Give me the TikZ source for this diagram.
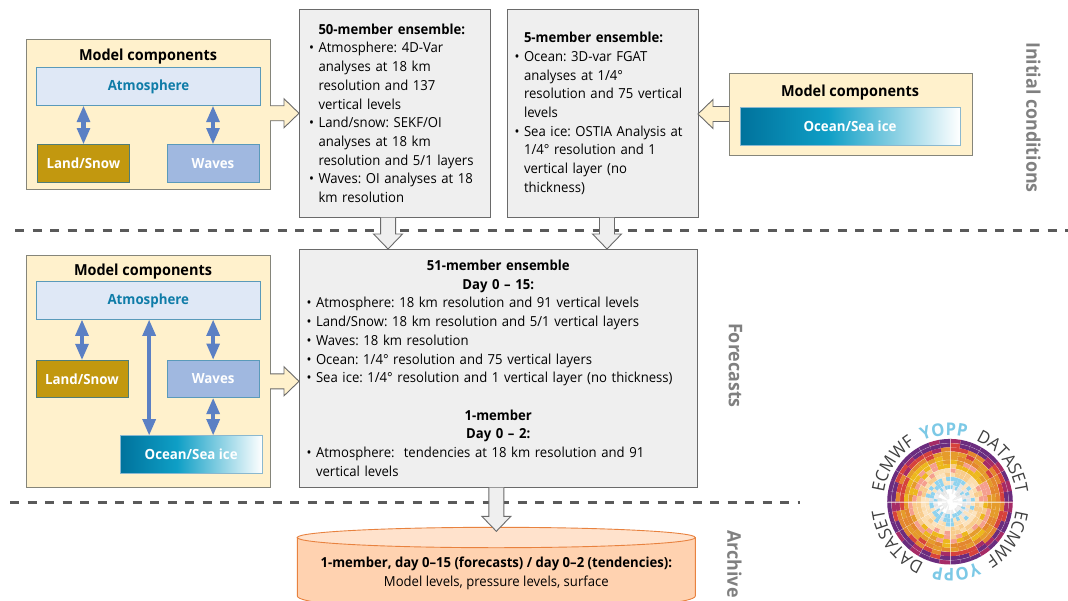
\documentclass[tikz,border=0pt]{standalone}
\usepackage{fontspec}
\setmainfont{Open Sans}[FakeStretch=0.95]
\frenchspacing
\usetikzlibrary{calc,arrows.meta,shapes.geometric,decorations.text}
\definecolor{mcfill}{HTML}{FFF1CC}
\definecolor{mcline}{HTML}{85857A}
\definecolor{ensfill}{HTML}{EFEFEF}
\definecolor{ensline}{HTML}{6A6A6A}
\definecolor{atmfill}{HTML}{DFE8F6}
\definecolor{atmline}{HTML}{5A9ABA}
\definecolor{atmtext}{HTML}{0F7CA8}
\definecolor{landfill}{HTML}{C2980F}
\definecolor{landline}{HTML}{4F7D78}
\definecolor{wavefill}{HTML}{A0B8E0}
\definecolor{arrowblue}{HTML}{5B80C4}
\definecolor{dashgrey}{HTML}{5A5A5A}
\definecolor{sidegrey}{HTML}{808080}
\definecolor{cylbody}{HTML}{FFD2B0}
\definecolor{cyltop}{HTML}{FFE2CC}
\definecolor{cylline}{HTML}{E8823F}
\definecolor{oceanA}{HTML}{00729C}
\definecolor{oceanB}{HTML}{0F9FC6}
\definecolor{yopp}{HTML}{7CC9E6}
\definecolor{cA}{HTML}{6B2C7E}
\definecolor{cB}{HTML}{A62B66}
\definecolor{cC}{HTML}{D6423C}
\definecolor{cD}{HTML}{E4872E}
\definecolor{cE}{HTML}{E59B2B}
\definecolor{cF}{HTML}{EDB81D}
\definecolor{cG}{HTML}{F59F8E}
\definecolor{cH}{HTML}{F8CC8C}
\definecolor{cI}{HTML}{FBDDAE}
\definecolor{cJ}{HTML}{FCE3BE}
\definecolor{cK}{HTML}{8FD2EE}
\definecolor{cL}{HTML}{E4E4E4}
\definecolor{cM}{HTML}{EDEDED}
\definecolor{cN}{HTML}{FFFFFF}
\pgfdeclarehorizontalshading{oceangrad}{100bp}{color(0bp)=(oceanA); color(25bp)=(oceanA); color(45bp)=(oceanB); color(75bp)=(white); color(100bp)=(white)}
\tikzset{
  x=1pt,y=-1pt,
  base/.style={inner sep=0pt,outer sep=0pt,font=\fontsize{13.8}{18.7}\selectfont},
  mcbox/.style={base,draw=mcline,fill=mcfill,line width=0.9pt,anchor=north west},
  ensbox/.style={base,draw=ensline,fill=ensfill,line width=0.9pt,anchor=north west,inner xsep=8pt,align=left},
  comp/.style={base,anchor=north west,line width=0.9pt,text=white,font=\fontsize{14}{17}\selectfont\bfseries},
  atmbox/.style={comp,draw=atmline,fill=atmfill,text=atmtext},
  landbox/.style={comp,draw=landline,fill=landfill},
  wavebox/.style={comp,draw=atmline,fill=wavefill},
  oceanbox/.style={comp,draw=atmline!70,shading=oceangrad},
  mctitle/.style={base,font=\fontsize{15.2}{18}\selectfont\bfseries},
  side/.style={base,rotate=-90,text=sidegrey,font=\fontsize{18.8}{22}\selectfont\bfseries},
  dashline/.style={draw=dashgrey,line width=2.4pt,dash pattern=on 9pt off 8.5pt},
  twoway/.style={draw=arrowblue,line width=4.6pt,{Triangle[length=16.5pt,width=12.5pt,fill=arrowblue]}-{Triangle[length=16.5pt,width=12.5pt,fill=arrowblue]},shorten >=0pt,shorten <=0pt},
  blockline/.style={draw=ensline,line width=0.9pt,line join=miter},
}
\newlength\ind
\newcommand\tline[1]{\hspace*{\ind}#1\\}
\newcommand\bline[1]{\hspace*{\ind}\llap{•\hspace{4.5pt}}#1\\}
\newcommand\cenline[1]{\makebox[\hsize][c]{#1}\\}
% fill colour, from, to, head length
\newcommand\blockarrow[4]{%
  \coordinate (hd) at ($(#3)!#4pt!(#2)$);
  \fill[#1] ($(#2)!7.5pt!90:(#3)$) -- ($(hd)!7.5pt!-90:(#2)$) -- ($(hd)!14.5pt!-90:(#2)$) -- (#3) -- ($(hd)!14.5pt!90:(#2)$) -- ($(hd)!7.5pt!90:(#2)$) -- ($(#2)!7.5pt!-90:(#3)$) -- cycle;
  \draw[blockline] ($(#2)!7.5pt!90:(#3)$) -- ($(hd)!7.5pt!-90:(#2)$) -- ($(hd)!14.5pt!-90:(#2)$) -- (#3) -- ($(hd)!14.5pt!90:(#2)$) -- ($(hd)!7.5pt!90:(#2)$) -- ($(#2)!7.5pt!-90:(#3)$);
}
\begin{document}
\begin{tikzpicture}
\useasboundingbox (0,0) rectangle (1068,600);
\fill[white] (0,0) rectangle (1068,600);

% dashed separators
\coordinate (d1a) at (15,230.3); \coordinate (d1b) at (1068,230.3);
\coordinate (d2a) at (10,502.3); \coordinate (d2b) at (800,502.3);
\draw[dashline] (d1a) -- (d1b);
\draw[dashline] (d2a) -- (d2b);

% ---------- initial conditions, left
\node[mcbox,minimum width=243.5pt,minimum height=150pt] (mc1) at (26.5,39.5) {};
\node[mctitle] (mc1t) at (148,57) {Model components};
\node[atmbox,minimum width=224pt,minimum height=38pt] (atm1) at (36.5,67.5) {Atmosphere};
\node[landbox,minimum width=92pt,minimum height=37.5pt] (land1) at (37.5,144.5) {Land/Snow};
\node[wavebox,minimum width=92pt,minimum height=37.5pt] (wave1) at (167,144.5) {Waves};
\draw[twoway] (atm1.south -| land1.north) -- (land1.north);
\draw[twoway] (atm1.south -| wave1.north) -- (wave1.north);

% ---------- ensembles
\setlength\ind{11.5pt}
\node[ensbox,minimum width=191.5pt,minimum height=208.5pt,text width=175.5pt] (ens50) at (299,9) {%
\tline{\textbf{50-member ensemble:}}
\bline{Atmosphere: 4D-Var}
\tline{analyses at 18 km}
\tline{resolution and 137}
\tline{vertical levels}
\bline{Land/snow: SEKF/OI}
\tline{analyses at 18 km}
\tline{resolution and 5/1 layers}
\bline{Waves: OI analyses at 18}
\tline{km resolution}};
\setlength\ind{9pt}
\node[ensbox,minimum width=191pt,minimum height=208.5pt,text width=175pt] (ens5) at (507,9) {%
\tline{\textbf{5-member ensemble:}}
\bline{Ocean: 3D-var FGAT}
\tline{analyses at 1/4°}
\tline{resolution and 75 vertical}
\tline{levels}
\bline{Sea ice: OSTIA Analysis at}
\tline{1/4° resolution and 1}
\tline{vertical layer (no}
\tline{thickness)}};
\node[ensbox,minimum width=398.5pt,minimum height=238.5pt,text width=382.5pt] (ens51) at (299,249) {%
\cenline{\textbf{51-member ensemble}}
\cenline{\textbf{Day 0 – 15:}}
\bline{Atmosphere: 18 km resolution and 91 vertical levels}
\bline{Land/Snow: 18 km resolution and 5/1 vertical layers}
\bline{Waves: 18 km resolution}
\bline{Ocean: 1/4° resolution and 75 vertical layers}
\bline{Sea ice: 1/4° resolution and 1 vertical layer (no thickness)}
\mbox{}\\
\cenline{\textbf{1-member}}
\cenline{\textbf{Day 0 – 2:}}
\bline{Atmosphere:\ \ tendencies at 18 km resolution and 91}
\tline{vertical levels}};

% ---------- initial conditions, right
\node[mcbox,minimum width=243pt,minimum height=82pt] (mc2) at (729,73) {};
\node[mctitle] (mc2t) at (850,92.5) {Model components};
\node[oceanbox,minimum width=220pt,minimum height=38pt] (ocean2) at (740,107) {Ocean/Sea ice};

% ---------- forecasts
\node[mcbox,minimum width=243.5pt,minimum height=232pt] (mc3) at (26.5,255.7) {};
\node[mctitle] (mc3t) at (143,271.5) {Model components};
\node[atmbox,minimum width=224.5pt,minimum height=37.6pt] (atm3) at (36,281.7) {Atmosphere};
\node[landbox,minimum width=92pt,minimum height=37.6pt] (land3) at (36,360.3) {Land/Snow};
\node[wavebox,minimum width=92.3pt,minimum height=37.6pt] (wave3) at (167,360) {Waves};
\node[oceanbox,minimum width=142.3pt,minimum height=38pt] (ocean3) at (120,435.7) {Ocean/Sea ice};
\coordinate (long3) at ($(ocean3.north)+(-42,0)$);
\draw[twoway] (atm3.south -| land3.north) -- (land3.north);
\draw[twoway] (atm3.south -| wave3.north) -- (wave3.north);
\draw[twoway] (atm3.south -| long3) -- (long3);
\draw[twoway] (wave3.south) -- (wave3.south |- ocean3.north);

% ---------- archive cylinder
\begin{scope}
\clip (0,0) rectangle (1068,600);
\coordinate (cylL) at (297.3,537.5);
\coordinate (cylR) at (695.3,537.5);
\filldraw[fill=cylbody,draw=cylline,line width=0.9pt] (cylL) -- (297.3,596) .. controls (297.3,599) and (310,602) .. (330,604) -- (660,604) .. controls (682,602) and (695.3,599) .. (695.3,596) -- (cylR) -- cycle;
\node[ellipse,draw=cylline,fill=cyltop,line width=0.9pt,minimum width=398pt,minimum height=20.4pt,inner sep=0pt,outer sep=0pt] (archtop) at (496.3,537.5) {};
\end{scope}
\node[base,align=center] (arch) at (496.3,573.5) {\textbf{1-member, day 0–15 (forecasts) / day 0–2 (tendencies):}\\Model levels, pressure levels, surface};

% ---------- block arrows
\coordinate (a1a) at (mc1.east |- ens50.west);
\coordinate (a1b) at (ens50.west);
\blockarrow{mcfill}{a1a}{a1b}{15}
\coordinate (a2a) at (mc2.west);
\coordinate (a2b) at (mc2.west -| ens5.east);
\blockarrow{mcfill}{a2a}{a2b}{15}
\coordinate (a3a) at ($(mc3.east)+(0,9.6)$);
\coordinate (a3b) at (a3a -| ens51.west);
\blockarrow{mcfill}{a3a}{a3b}{15}
\coordinate (a4a) at ($(ens50.south)+(-6.7,0)$);
\coordinate (a4b) at (a4a |- ens51.north);
\blockarrow{ensfill}{a4a}{a4b}{15}
\coordinate (a5a) at ($(ens5.south)+(4.5,0)$);
\coordinate (a5b) at (a5a |- ens51.north);
\blockarrow{ensfill}{a5a}{a5b}{15}
\coordinate (a6a) at ($(ens51.south)+(-1.9,0)$);
\coordinate (a6b) at ($(a6a |- archtop.north)+(0,4)$);
\blockarrow{ensfill}{a6a}{a6b}{15}

% ---------- side labels
\node[side] (sideA) at (1033.5,117.5) {Initial conditions};
\node[side] (sideB) at (735.5,365.5) {Forecasts};
\node[side] (sideC) at (734.5,564) {Archive};

% ---------- logo
\begin{scope}[shift={(950,501.7)},y=1pt]
\pgfmathsetseed{4271}
\foreach \i/\ro/\ri in {0/62.8/58.6,1/58.6/54.4,2/54.4/50.2,3/50.2/46,4/46/41.8,5/41.8/37.6,6/37.6/33.4,7/33.4/29.2,8/29.2/25,9/25/20.8,10/20.8/16.6,11/16.6/12.4,12/12.4/8.2,13/8.2/3}{
  \foreach \j in {0,...,35}{
    \pgfmathsetmacro\aS{\j*10}
    \pgfmathsetmacro\aE{\j*10+10}
    \pgfmathrandominteger{\nz}{-1}{1}
    \pgfmathtruncatemacro\idx{min(\i+1,min(13,max(0,\i+\nz)))}
    \pgfmathparse{{"cA","cB","cC","cD","cE","cF","cG","cH","cI","cJ","cK","cL","cM","cN"}[\idx]}
    \edef\cn{\pgfmathresult}
    \fill[\cn] (\aS:\ro pt) arc[start angle=\aS,end angle=\aE,radius=\ro pt] -- (\aE:\ri pt) arc[start angle=\aE,end angle=\aS,radius=\ri pt] -- cycle;
  }
}
\foreach \r in {58.6,50.2,41.8,33.4,25,16.6}{\draw[white,opacity=0.6,line width=0.2pt] (0,0) circle[radius=\r pt];}
\foreach \a in {0,30,...,330}{\draw[white,opacity=0.6,line width=0.2pt] (\a:4pt) -- (\a:62.8pt);}
\foreach \rot in {0,180}{
\begin{scope}[rotate=\rot]
\path[decorate,decoration={text along path,text align=center,text={|\fontsize{17.5}{20}\selectfont\color{black!75}|ECMWF}}] (172:66.5pt) arc[start angle=172,end angle=122,radius=66.5pt];
\path[decorate,decoration={text along path,text align=center,text={|\fontsize{17.5}{20}\selectfont\bfseries\color{yopp}|YOPP}}] (115:66.5pt) arc[start angle=115,end angle=75,radius=66.5pt];
\path[decorate,decoration={text along path,text align=center,text={|\fontsize{17.5}{20}\selectfont\color{black!75}|DATASET}}] (66:66.5pt) arc[start angle=66,end angle=8,radius=66.5pt];
\end{scope}}
\end{scope}
\end{tikzpicture}
\end{document}
